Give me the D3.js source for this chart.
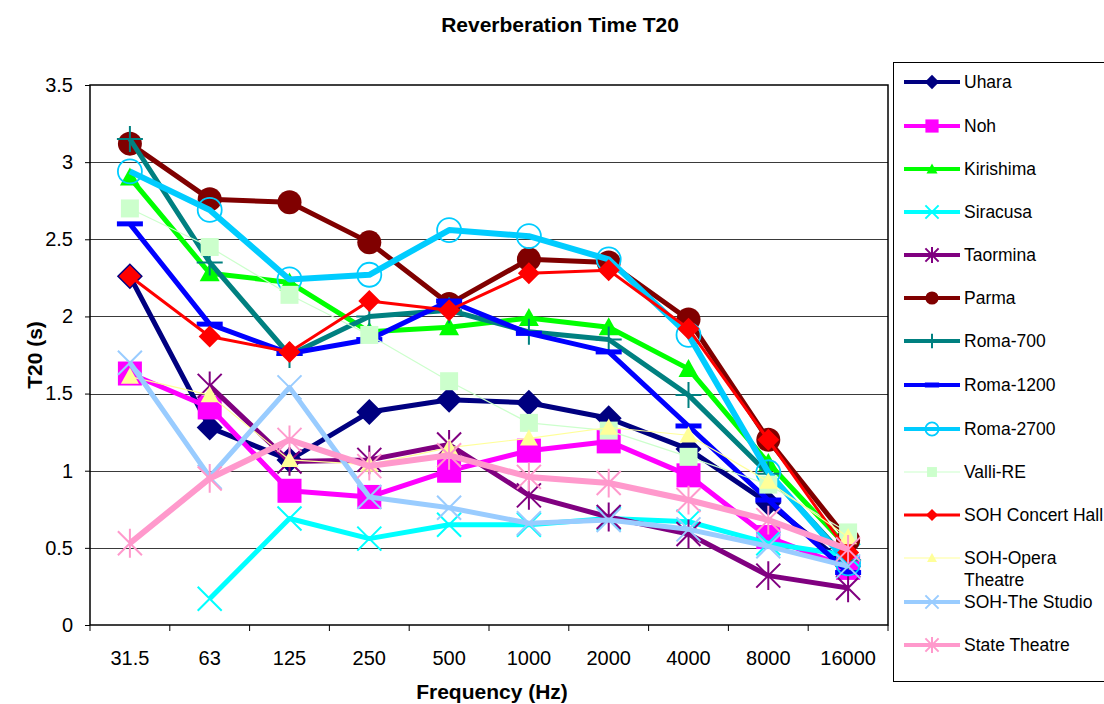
<!DOCTYPE html>
<html>
<head>
<meta charset="utf-8">
<script src="https://cdn.jsdelivr.net/npm/d3@7"></script>
<style>
  body { margin: 0; background: #fff; }
  svg { font-family: "Liberation Sans", Arial, sans-serif; }
</style>
</head>
<body>
<div id="chart"></div>
<script>
// frequencies (Hz)
const freqs = ["31.5", "63", "125", "250", "500", "1000", "2000", "4000", "8000", "16000"];
const yTicks = [0, 0.5, 1, 1.5, 2, 2.5, 3, 3.5];

// T20 values (s)
const uhara      = [2.26, 1.28, 1.07, 1.38, 1.46, 1.44, 1.34, 1.14, 0.79, 0.38];
const noh        = [1.63, 1.41, 0.87, 0.83, 1.00, 1.13, 1.19, 0.97, 0.57, 0.37];
const kirishima  = [2.90, 2.28, 2.22, 1.90, 1.93, 1.99, 1.93, 1.66, 1.05, 0.50];
const siracusa   = [null, 0.17, 0.69, 0.56, 0.65, 0.65, 0.69, 0.67, 0.53, 0.45];
const taormina   = [null, 1.55, 1.06, 1.07, 1.17, 0.84, 0.70, 0.59, 0.32, 0.24];
const parma      = [3.12, 2.76, 2.74, 2.48, 2.08, 2.37, 2.35, 1.98, 1.20, 0.55];
const roma700    = [3.15, 2.35, 1.75, 2.00, 2.04, 1.90, 1.85, 1.49, 0.98, 0.42];
const roma1200   = [2.60, 1.95, 1.76, 1.85, 2.10, 1.89, 1.77, 1.29, 0.81, 0.34];
const roma2700   = [2.94, 2.69, 2.24, 2.27, 2.56, 2.52, 2.37, 1.88, 0.99, 0.40];
const valliRE    = [2.70, 2.45, 2.14, 1.88, 1.58, 1.31, 1.26, 1.09, 0.91, 0.60];
const sohConcert = [2.26, 1.87, 1.77, 2.10, 2.04, 2.28, 2.30, 1.92, 1.20, 0.47];
const sohOpera   = [1.61, 1.49, 1.07, 1.04, 1.15, 1.21, 1.28, 1.23, 0.93, 0.57];
const sohStudio  = [1.70, 0.96, 1.54, 0.83, 0.76, 0.66, 0.68, 0.62, 0.51, 0.38];
const stateTh    = [0.53, 0.95, 1.20, 1.03, 1.10, 0.96, 0.92, 0.81, 0.68, 0.49];

const series = [
  {name: "Uhara", values: uhara},
  {name: "Noh", values: noh},
  {name: "Kirishima", values: kirishima},
  {name: "Siracusa", values: siracusa},
  {name: "Taormina", values: taormina},
  {name: "Parma", values: parma},
  {name: "Roma-700", values: roma700},
  {name: "Roma-1200", values: roma1200},
  {name: "Roma-2700", values: roma2700},
  {name: "Valli-RE", values: valliRE},
  {name: "SOH Concert Hall", values: sohConcert},
  {name: "SOH-Opera Theatre", values: sohOpera},
  {name: "SOH-The Studio", values: sohStudio},
  {name: "State Theatre", values: stateTh}
];

// look of each series
const styles = {
  "Uhara":             {color: "#000080", width: 5, marker: "diamond", size: 13},
  "Noh":               {color: "#ff00ff", width: 5, marker: "square", size: 12},
  "Kirishima":         {color: "#00ff00", width: 5, marker: "triangle", size: 10},
  "Siracusa":          {color: "#00ffff", width: 5, marker: "x", size: 12},
  "Taormina":          {color: "#800080", width: 5, marker: "star", size: 12},
  "Parma":             {color: "#800000", width: 5, marker: "circle", size: 12},
  "Roma-700":          {color: "#008080", width: 5, marker: "plus", size: 13},
  "Roma-1200":         {color: "#0000ff", width: 5, marker: "dash", size: 13},
  "Roma-2700":         {color: "#00ccff", width: 6, marker: "ocircle", size: 12},
  "Valli-RE":          {color: "#ccffcc", width: 1.2, marker: "square", size: 9},
  "SOH Concert Hall":  {color: "#ff0000", width: 3, marker: "diamond", size: 11},
  "SOH-Opera Theatre": {color: "#ffff99", width: 1.2, marker: "triangle", size: 9},
  "SOH-The Studio":    {color: "#99ccff", width: 5, marker: "x", size: 12},
  "State Theatre":     {color: "#ff99cc", width: 6, marker: "star", size: 12}
};

const W = 1104, H = 704;
const plot = {left: 90, right: 888, top: 85, bottom: 625};

const svg = d3.select("#chart").append("svg")
  .attr("width", W)
  .attr("height", H);

const x = d3.scaleBand()
  .domain(freqs)
  .range([plot.left, plot.right]);
const xc = d => x(d) + x.bandwidth() / 2;

const y = d3.scaleLinear()
  .domain([0, 3.5])
  .range([plot.bottom, plot.top]);

// grid
svg.append("g")
  .selectAll("line")
  .data(yTicks.filter(t => t > 0 && t < 3.5))
  .join("line")
  .attr("x1", plot.left)
  .attr("x2", plot.right)
  .attr("y1", d => Math.round(y(d)) + 0.5)
  .attr("y2", d => Math.round(y(d)) + 0.5)
  .attr("stroke", "#3a3a3a")
  .attr("stroke-width", 1);

// axes
const yAxis = svg.append("g")
  .attr("transform", `translate(${plot.left},0)`)
  .call(d3.axisLeft(y).tickValues(yTicks).tickSize(5).tickPadding(12).tickFormat(d3.format("")));
yAxis.select(".domain").remove();
yAxis.selectAll("text").attr("font-size", 20).attr("fill", "#000");

const xAxis = svg.append("g")
  .attr("transform", `translate(0,${plot.bottom})`)
  .call(d3.axisBottom(x).tickSize(0).tickPadding(26));
xAxis.select(".domain").remove();
xAxis.selectAll("text").attr("font-size", 20).attr("fill", "#000");
xAxis.selectAll(".bound")
  .data(d3.range(freqs.length + 1))
  .join("line")
  .attr("x1", i => plot.left + i * x.step())
  .attr("x2", i => plot.left + i * x.step())
  .attr("y1", 0)
  .attr("y2", 6)
  .attr("stroke", "#000");

svg.append("rect")
  .attr("x", plot.left)
  .attr("y", plot.top)
  .attr("width", plot.right - plot.left)
  .attr("height", plot.bottom - plot.top)
  .attr("fill", "none")
  .attr("stroke", "#000")
  .attr("stroke-width", 1.5);

// marker shapes
function markerPath(type, s) {
  switch (type) {
    case "diamond": return `M0,${-s}L${s},0L0,${s}L${-s},0Z`;
    case "square": return `M${-s},${-s}H${s}V${s}H${-s}Z`;
    case "triangle": return `M0,${-s}L${s},${s * 0.8}H${-s}Z`;
    case "circle":
    case "ocircle": return d3.symbol(d3.symbolCircle, Math.PI * s * s)();
    case "x": return `M${-s},${-s}L${s},${s}M${s},${-s}L${-s},${s}`;
    case "star": return `M${-s},${-s}L${s},${s}M${s},${-s}L${-s},${s}M0,${-s * 1.2}V${s * 1.2}`;
    case "plus": return `M${-s},0H${s}M0,${-s}V${s}`;
    case "dash": return `M${-s},${-2.5}H${s}V${2.5}H${-s}Z`;
  }
}

function drawMarker(g, st, scale) {
  const s = st.size * scale;
  const p = g.append("path").attr("d", markerPath(st.marker, s));
  if (["x", "star", "plus"].includes(st.marker)) {
    p.attr("fill", "none").attr("stroke", st.color).attr("stroke-width", 2);
  } else if (st.marker === "ocircle") {
    p.attr("fill", "none").attr("stroke", st.color).attr("stroke-width", 1.8);
  } else {
    p.attr("fill", st.color);
  }
}

const line = d3.line()
  .defined(d => d.v != null)
  .x(d => xc(d.f))
  .y(d => y(d.v));

series.forEach(s => {
  const st = styles[s.name];
  const pts = freqs.map((f, i) => ({f, v: s.values[i]}));
  const g = svg.append("g");
  g.append("path")
    .datum(pts)
    .attr("d", line)
    .attr("fill", "none")
    .attr("stroke", st.color)
    .attr("stroke-width", st.width)
    .attr("stroke-linejoin", "round");
  pts.filter(d => d.v != null).forEach(d => {
    const m = g.append("g").attr("transform", `translate(${xc(d.f)},${y(d.v)})`);
    drawMarker(m, st, 1);
  });
});

// titles
svg.append("text")
  .attr("x", 560).attr("y", 32)
  .attr("text-anchor", "middle")
  .attr("font-size", 21).attr("font-weight", "bold")
  .text("Reverberation Time T20");

svg.append("text")
  .attr("x", 492).attr("y", 699)
  .attr("text-anchor", "middle")
  .attr("font-size", 21).attr("font-weight", "bold")
  .text("Frequency (Hz)");

svg.append("text")
  .attr("transform", `translate(42,${(plot.top + plot.bottom) / 2}) rotate(-90)`)
  .attr("text-anchor", "middle")
  .attr("font-size", 21).attr("font-weight", "bold")
  .text("T20 (s)");

// legend
const legend = svg.append("g");
legend.append("rect")
  .attr("x", 893.5).attr("y", 62.5)
  .attr("width", 220).attr("height", 619)
  .attr("fill", "#fff").attr("stroke", "#000");

const legendY = [82, 126, 169, 212, 255, 298, 341, 385, 429, 472, 515, 558, 602, 645];
series.forEach((s, i) => {
  const st = styles[s.name];
  const ly = legendY[i];
  const g = legend.append("g");
  g.append("line")
    .attr("x1", 904).attr("x2", 960)
    .attr("y1", ly).attr("y2", ly)
    .attr("stroke", st.color)
    .attr("stroke-width", Math.min(st.width, 4));
  const m = g.append("g").attr("transform", `translate(932,${ly})`);
  drawMarker(m, st, 0.55);
  const t = g.append("text")
    .attr("x", 964).attr("y", ly + 6)
    .attr("font-size", 17.5);
  if (s.name === "SOH-Opera Theatre") {
    t.append("tspan").attr("x", 964).text("SOH-Opera");
    t.append("tspan").attr("x", 964).attr("dy", 22).text("Theatre");
  } else {
    t.text(s.name);
  }
});
</script>
</body>
</html>
